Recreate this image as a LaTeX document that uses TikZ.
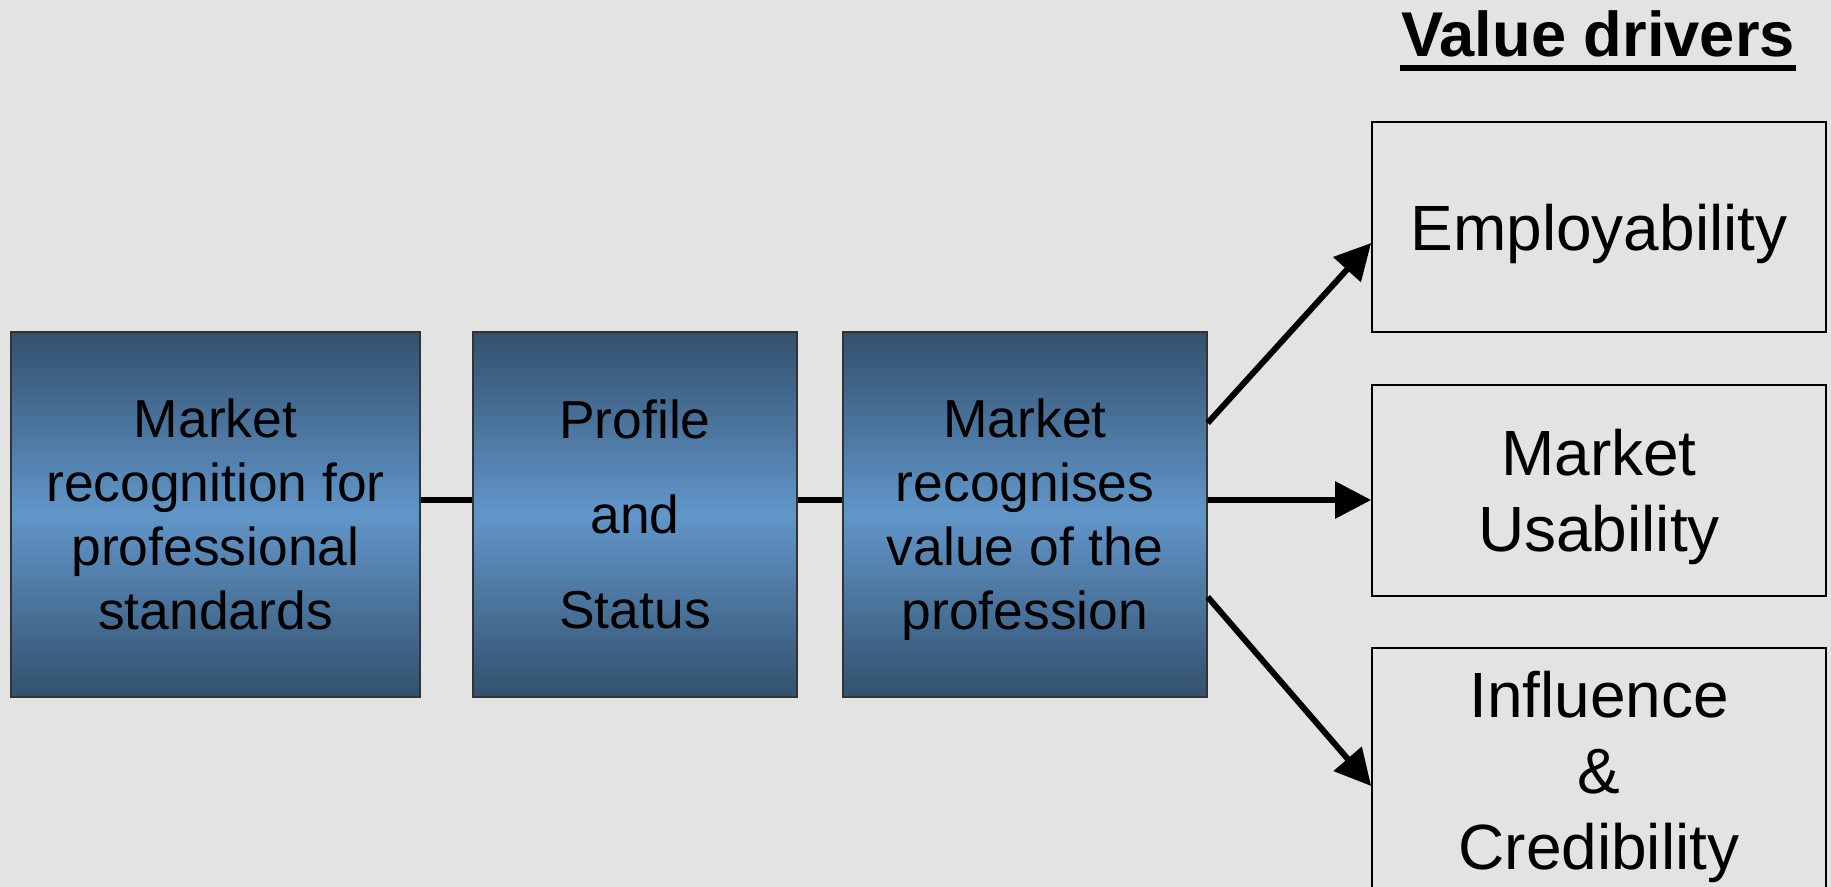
\documentclass[tikz,border=0pt]{standalone}
\usepackage{fontspec}
\setmainfont{Liberation Sans}
\usetikzlibrary{arrows.meta}
\usetikzlibrary{positioning}

\definecolor{bggray}{HTML}{E3E3E3}
\definecolor{stepdark}{HTML}{33506E}
\definecolor{steplight}{HTML}{6196C9}

\begin{document}
\begin{tikzpicture}[
    stepbox/.style={draw=black!80, line width=0.4pt, top color=stepdark, bottom color=stepdark, middle color=steplight,
        minimum height=3.65cm, align=center, text depth=0pt, inner sep=0pt, font=\fontsize{15.2}{18.2}\selectfont},
    driverbox/.style={draw=black, line width=0.5pt, fill=bggray, minimum width=4.54cm,
        align=center, text depth=0pt, inner sep=0pt, font=\fontsize{18.2}{21.6}\selectfont},
    link/.style={line width=1.7pt},
    push/.style={line width=1.7pt, -{Triangle[length=0.36cm,width=0.36cm]}}
]
            % Background
            \fill[bggray] (0,0) rectangle (18.31,-8.87);
            \useasboundingbox (0,0) rectangle (18.31,-8.87);

            % Chain of steps
            \node[stepbox, minimum width=4.09cm] (std) at (2.155,-5.145) {Market\\recognition for\\professional\\standards};
            \node[stepbox, minimum width=3.24cm, font=\fontsize{15.2}{27}\selectfont] (status) at (6.35,-5.145) {Profile\\and\\Status};
            \node[stepbox, minimum width=3.64cm] (recog) at (10.25,-5.145) {Market\\recognises\\value of the\\profession};

            \draw[link] ([yshift=0.145cm]std.east) -- ([yshift=0.145cm]status.west);
            \draw[link] ([yshift=0.145cm]status.west -| status.east) -- ([yshift=0.145cm]recog.west);

            % Value drivers
            \node[inner sep=0pt, anchor=base, font=\fontsize{18}{22}\selectfont\bfseries] (title) at (15.98,-0.57) {Value drivers};
            \draw[line width=1.7pt] ([yshift=-0.11cm]title.base west) -- ([yshift=-0.11cm]title.base east);

            \node[driverbox, minimum height=2.10cm] (employ) at (15.99,-2.27) {Employability};
            \node[driverbox, minimum height=2.11cm] (usab) at (15.99,-4.905) {Market\\Usability};
            \node[driverbox, minimum height=2.44cm] (infl) at (15.99,-7.70) {Influence\\\&\\Credibility};

            % Arrows
            \draw[push] ([yshift=0.915cm]recog.east) -- ([yshift=-0.16cm]employ.west);
            \draw[push] ([yshift=0.145cm]recog.east) -- ([yshift=-0.095cm]usab.west);
            \draw[push] ([yshift=-0.825cm]recog.east) -- ([yshift=-0.16cm]infl.west);

\end{tikzpicture}
\end{document}
